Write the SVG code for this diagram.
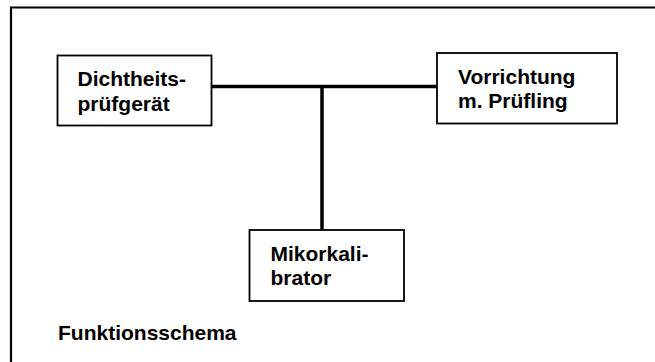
<svg xmlns="http://www.w3.org/2000/svg" width="655" height="362" viewBox="0 0 655 362">
<style>
.box{fill:#fff;stroke:#000;stroke-width:1.8}
.t{font-family:"Liberation Sans",Arial,sans-serif;font-weight:bold;font-size:21px;fill:#000}
.wire{stroke:#000;stroke-width:3.5;fill:none}
</style>
<rect width="655" height="362" fill="#fff"/>
<g id="frame"><path d="M11 362 V7.5 H655" fill="none" stroke="#000" stroke-width="2.2"/></g>
<g id="connectors">
<line class="wire" x1="211" y1="86.5" x2="437" y2="86.5"/>
<line class="wire" x1="322" y1="86.5" x2="322" y2="230"/>
</g>
<g id="dicht">
<rect class="box" x="57.5" y="55.5" width="154" height="70"/>
<text class="t" x="77.5" y="86">Dichtheits-</text>
<text class="t" x="77.5" y="111">prüfgerät</text>
</g>
<g id="vorr">
<rect class="box" x="437" y="53" width="180" height="70.5"/>
<text class="t" x="458" y="84">Vorrichtung</text>
<text class="t" x="458" y="108">m. Prüfling</text>
</g>
<g id="mikro">
<rect class="box" x="249.5" y="230" width="154.5" height="71"/>
<text class="t" x="270.5" y="261">Mikorkali-</text>
<text class="t" x="270.5" y="285">brator</text>
</g>
<text class="t" x="58" y="340">Funktionsschema</text>
</svg>
